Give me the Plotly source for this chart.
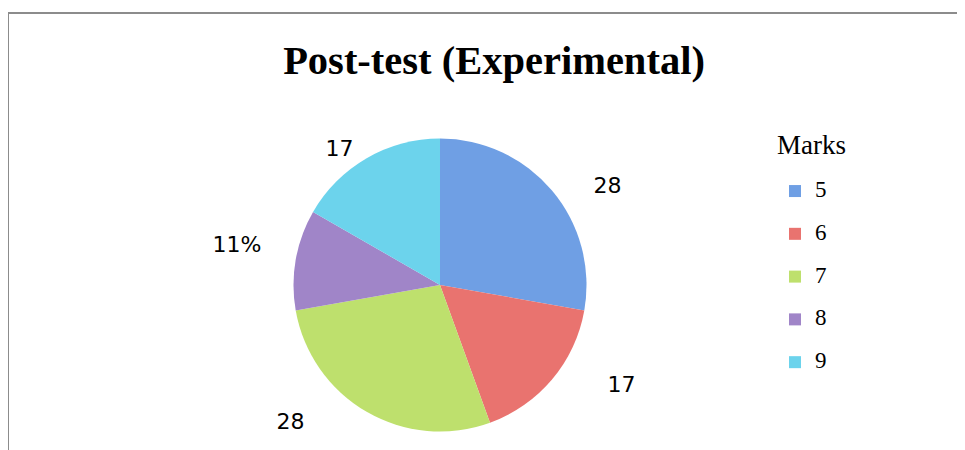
import plotly.graph_objects as go

marks = ["5", "6", "7", "8", "9"]
percent = [27.8, 16.7, 27.8, 11.1, 16.7]
shown_labels = ["28", "17", "28", "11%", "17"]
colors = ["#6F9FE4", "#E9736F", "#BEE06D", "#A085C8", "#6CD3EC"]

# extra spacing (non-breaking spaces / empty line) that moves each outside label away from the pie
pad_before = [5, 7, 0, 0, 0]
pad_after = [0, 0, 8, 3, 1]
pad_below = [False, False, False, True, False]

W, H = 965, 450
OFF = 8  # page body margin of the browser


def px(X):
    return (X - OFF) / W


def py(Y):
    return 1 - (Y - OFF) / H


cx, cy, r = 440, 285, 146.5

NB = "\u00a0"
label_text = [NB * b + t + NB * a + ("<br>" + NB if below else "")
              for t, b, a, below in zip(shown_labels, pad_before, pad_after, pad_below)]
legend_names = [f'<span style="font-size: 23px">{m}</span><br> ' for m in marks]

fig = go.Figure(go.Pie(
    labels=legend_names,
    values=percent,
    text=label_text,
    textinfo="text",
    textposition="outside",
    textfont=dict(family="DejaVu Sans", size=22, color="#000000"),
    marker=dict(colors=colors, line=dict(width=0)),
    sort=False,
    direction="clockwise",
    rotation=0,
    hoverinfo="skip",
    domain=dict(x=[px(cx - r), px(cx + r)], y=[py(cy + r), py(cy - r)]),
))

fig.update_layout(
    width=W, height=H,
    margin=dict(l=0, r=0, t=0, b=0),
    paper_bgcolor="white",
    plot_bgcolor="white",
    title=dict(text="<b>Post-test (Experimental)</b>", x=px(494), xanchor="center",
               y=py(60), yanchor="middle",
               font=dict(family="Liberation Serif", size=40.5, color="#000000")),
    showlegend=True,
    legend=dict(
        title=dict(text='<span style="font-size: 27px">Marks</span><br> ', side="top",
                   font=dict(family="Liberation Serif", size=16, color="#000000")),
        x=px(775), xanchor="left", y=py(133), yanchor="top",
        font=dict(family="Liberation Serif", size=15.3, color="#000000"),
        valign="top",
        bgcolor="rgba(0,0,0,0)",
    ),
    shapes=[
        dict(type="line", xref="paper", yref="paper", x0=px(7), x1=1, y0=py(13), y1=py(13),
             line=dict(color="#8C8C8C", width=2)),
        dict(type="line", xref="paper", yref="paper", x0=px(8), x1=px(8), y0=0, y1=py(13),
             line=dict(color="#8C8C8C", width=2)),
    ],
)

fig.write_html("out.html")
